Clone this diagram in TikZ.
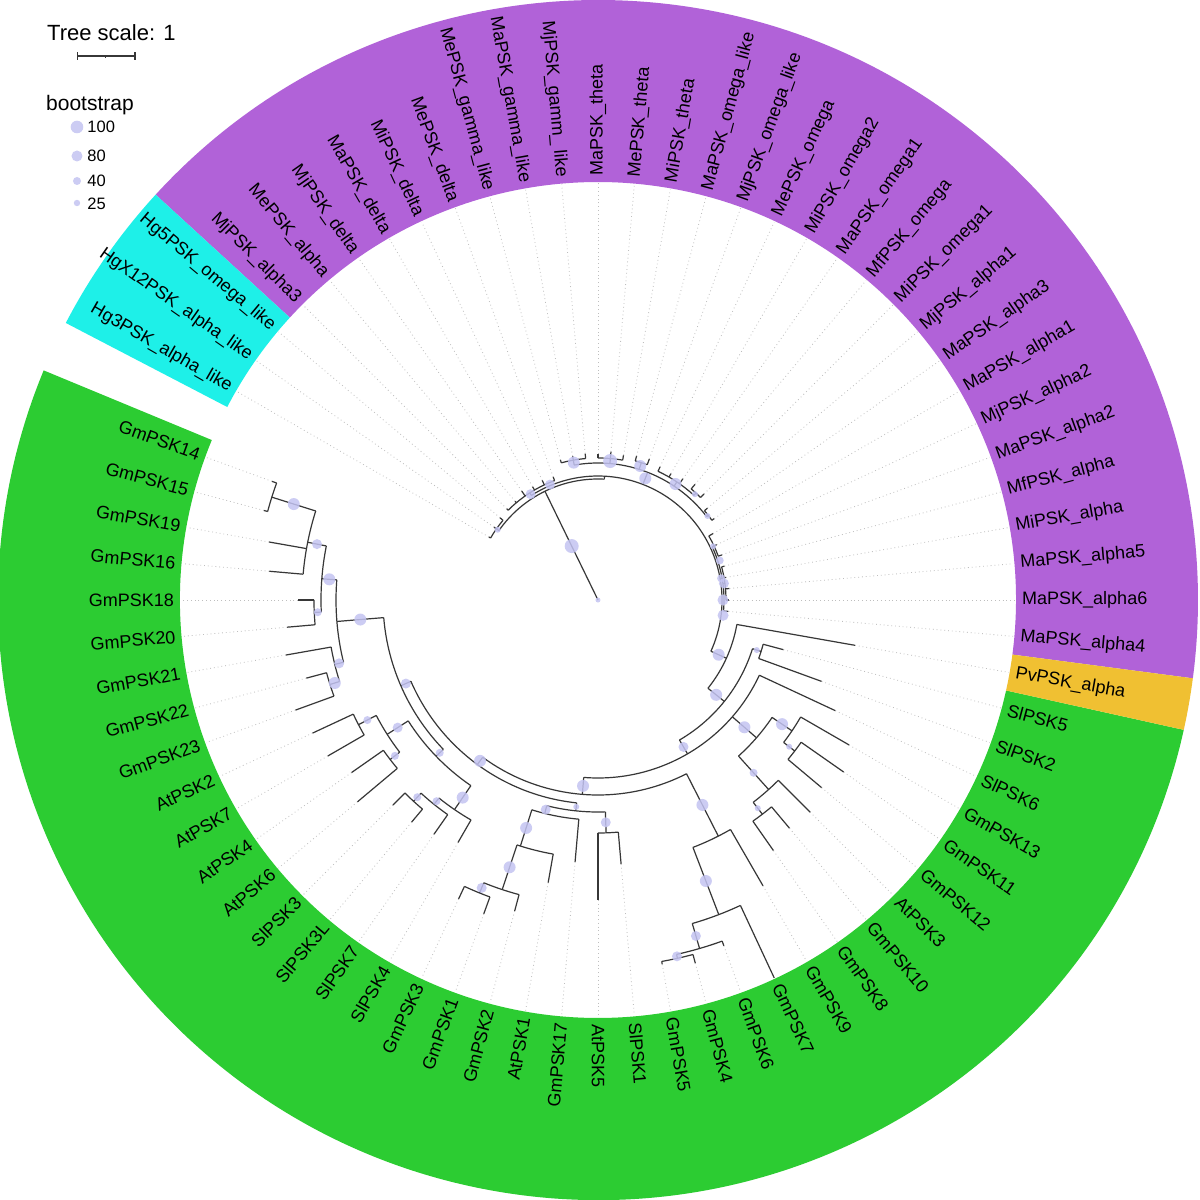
\documentclass[tikz,border=0pt]{standalone}
\usepackage{fontspec}
\setmainfont{Liberation Sans}
\usepackage{tikz}
\pgfdeclarelayer{fg}
\pgfsetlayers{main,fg}
\definecolor{purp}{RGB}{177,98,216}
\definecolor{cyn}{RGB}{30,240,232}
\definecolor{grn}{RGB}{44,204,50}
\definecolor{org}{RGB}{240,192,50}
\definecolor{bsc}{RGB}{196,196,242}
\definecolor{brc}{RGB}{55,55,55}
\definecolor{dlc}{RGB}{190,190,190}
\tikzset{
  br/.style={draw=brc, line width=1.2pt, line join=round},
  dl/.style={draw=dlc, line width=0.8pt, dash pattern=on 0.8pt off 3pt},
  lab/.style={inner sep=0pt, font=\fontsize{18}{20}\selectfont, text=black},
  bsfill/.style={fill=bsc, fill opacity=0.85},
  sbar/.style={draw=brc, line width=1.4pt}
}
% internal node: theta, r parent, r node, arc from, arc to, bootstrap size
\newcommand\nd[6]{%
  \draw[br] (#1:#2pt) -- (#1:#3pt);
  \draw[br] (#4:#3pt) arc[start angle=#4, end angle=#5, radius=#3pt];
  \ifdim #6pt>0pt
    \pgfmathsetmacro\rmid{(#2+#3)/2}%
    \begin{pgfonlayer}{fg}\fill[bsfill] (#1:\rmid pt) circle[radius=#6pt];\end{pgfonlayer}%
  \fi}
% leaf: theta, r parent, r tip, name, text
\newcommand\lf[5]{%
  \draw[br] (#1:#2pt) -- (#1:#3pt);
  \draw[dl] (#1:#3pt) -- (#1:417pt);
  \ifdim #1pt>90pt
    \pgfmathsetmacro\rot{#1-180}%
    \node[lab, anchor=east, rotate=\rot] (#4) at (#1:424pt) {#5};
  \else
    \node[lab, anchor=west, rotate=#1] (#4) at (#1:424pt) {#5};
  \fi}
\newcommand\ring[3]{%
  \fill[#3] (#1:418pt) arc[start angle=#1, end angle=#2, radius=418pt]
    -- (#2:600pt) arc[start angle=#2, end angle=#1, radius=600pt] -- cycle;}
\begin{document}
\begin{tikzpicture}[x=1pt,y=1pt]
\useasboundingbox (-598,-600) rectangle (602,600);
\fill[white] (-598,-600) rectangle (602,600);
% colour ranges
\ring{-7.5}{137.5}{purp}
\ring{137.5}{152.5}{cyn}
\ring{157.5}{347.5}{grn}
\ring{347.5}{352.5}{org}

% ---------- tree: root and purple / cyan part ----------
\coordinate (root) at (0,0);
\coordinate (nA) at (116:121pt);
\draw[br] (root) -- (nA);
\begin{pgfonlayer}{fg}
\fill[bsfill] (root) circle[radius=2.5pt];
\fill[bsfill] (116:60pt) circle[radius=7pt];
\end{pgfonlayer}
\draw[br] (87:121pt) arc[start angle=87, end angle=145, radius=121pt];
\nd{145}{121}{124}{140}{150}{3}
\nd{87}{121}{124}{-24.4}{122.5}{0}
\nd{122.5}{124}{127}{110}{135}{5}
\nd{68.75}{124}{137}{37.5}{100}{6}
\nd{100}{137}{142}{95}{105}{6}
\nd{85}{137}{142}{80}{90}{7}
\nd{72.5}{137}{144}{70}{75}{6}
\nd{56.25}{137}{142}{47.5}{65}{6}
\nd{47.5}{142}{145}{45}{50}{3}
\nd{37.5}{137}{139}{35}{40}{3}
\nd{10}{124}{126}{-5}{25}{4}
\nd{25}{126}{128}{20}{30}{3}
\nd{7.5}{126}{128}{0}{15}{5}
\begin{pgfonlayer}{fg}
\fill[bsfill] (0:125pt) circle[radius=5.5pt];
\fill[bsfill] (-7:126pt) circle[radius=5.5pt];
\fill[bsfill] (18:128pt) circle[radius=4pt];
\fill[bsfill] (112.6:125pt) circle[radius=5pt];
\end{pgfonlayer}

\lf{140}{124}{128}{HgvPSKomegalike}{Hg5PSK\_omega\_like}
\lf{145}{124}{127}{HgXxiiPSKalphalike}{HgX12PSK\_alpha\_like}
\lf{150}{124}{126}{HgiiiPSKalphalike}{Hg3PSK\_alpha\_like}

\lf{110}{127}{131}{MePSKdelta}{MePSK\_delta}
\lf{115}{127}{132}{MiPSKdelta}{MiPSK\_delta}
\lf{120}{127}{131}{MaPSKdelta}{MaPSK\_delta}
\lf{125}{127}{133}{MjPSKdelta}{MjPSK\_delta}
\lf{130}{127}{129}{MePSKalpha}{MePSK\_alpha}
\lf{135}{127}{129}{MjPSKalphaiii}{MjPSK\_alpha3}
\lf{95}{142}{147}{MjPSKgammlike}{MjPSK\_gamm\_ like}
\lf{100}{142}{146}{MaPSKgammalike}{MaPSK\_gamma\_like}
\lf{105}{142}{145}{MePSKgammalike}{MePSK\_gamma\_like}
\lf{80}{142}{147}{MiPSKtheta}{MiPSK\_theta}
\lf{85}{142}{149}{MePSKtheta}{MePSK\_theta}
\lf{90}{142}{146}{MaPSKtheta}{MaPSK\_theta}
\lf{70}{144}{150}{MjPSKomegalike}{MjPSK\_omega\_like}
\lf{75}{144}{149}{MaPSKomegalike}{MaPSK\_omega\_like}
\lf{55}{142}{148}{MaPSKomegai}{MaPSK\_omega1}
\lf{60}{142}{146}{MiPSKomegaii}{MiPSK\_omega2}
\lf{65}{142}{147}{MePSKomega}{MePSK\_omega}
\lf{45}{145}{150}{MiPSKomegai}{MiPSK\_omega1}
\lf{50}{145}{151}{MfPSKomega}{MfPSK\_omega}
\lf{35}{139}{142}{MaPSKalphaiii}{MaPSK\_alpha3}
\lf{40}{139}{143}{MjPSKalphai}{MjPSK\_alpha1}
\lf{20}{128}{132}{MaPSKalphaii}{MaPSK\_alpha2}
\lf{25}{128}{131}{MjPSKalphaii}{MjPSK\_alpha2}
\lf{30}{128}{133}{MaPSKalphai}{MaPSK\_alpha1}
\lf{0}{128}{131}{MaPSKalphavi}{MaPSK\_alpha6}
\lf{5}{128}{132}{MaPSKalphav}{MaPSK\_alpha5}
\lf{10}{128}{130}{MiPSKalpha}{MiPSK\_alpha}
\lf{15}{128}{131}{MfPSKalpha}{MfPSK\_alpha}
\lf{-5}{126}{131}{MaPSKalphaiv}{MaPSK\_alpha4}

% ---------- green / Pv part ----------
\nd{-24.4}{124}{141}{-38.75}{-10}{6}
\nd{-38.75}{141}{162}{-59.8}{-17.5}{6}
\nd{-17.5}{162}{171}{-20}{-15}{3}
\nd{-59.8}{162}{178}{-94.6}{-25}{5}
\nd{-41}{178}{210}{-48}{-34}{6}
\nd{-34}{210}{234}{-37.5}{-30}{6}
\nd{-37.5}{234}{248}{-40}{-35}{3}
\nd{-48}{210}{255}{-52.5}{-45}{4}
\nd{-52.5}{255}{270}{-55}{-50}{3}
\nd{-94.6}{178}{195}{-126.25}{-63}{6}
\nd{-63}{195}{265}{-69}{-60}{6}
\nd{-69}{265}{337}{-73.75}{-65}{6}
\nd{-73.75}{337}{363}{-77.5}{-70}{5}
\nd{-77.5}{363}{367}{-80}{-75}{5}
\nd{233.75}{195}{204}{203.5}{264}{6}
\nd{264}{204}{212}{256}{272}{3}
\nd{272}{212}{233}{270}{275}{5}
\nd{256}{212}{220}{252.5}{265}{5}
\nd{252.5}{220}{258}{251.7}{260}{6}
\nd{251.7}{258}{305}{248}{255}{6}
\nd{248}{305}{316}{245}{250}{5}
\nd{203.5}{204}{215}{184.7}{224}{5}
\nd{224}{215}{225}{212.5}{235.6}{4}
\nd{212.5}{225}{250}{207.5}{217.5}{5}
\nd{217.5}{250}{262}{215}{220}{4}
\nd{207.5}{250}{270}{205}{210}{4}
\nd{235.6}{225}{254}{231.25}{240}{6}
\nd{231.25}{254}{262}{227.5}{235}{4}
\nd{227.5}{262}{273}{225}{230}{4}
\nd{184.7}{215}{262}{175.6}{193.75}{6}
\nd{175.6}{262}{277}{168.75}{182.5}{6}
\nd{168.75}{277}{296}{162.5}{175}{5}
\nd{162.5}{296}{342}{160}{165}{6}
\nd{182.5}{277}{284}{180}{185}{4}
\nd{193.75}{262}{271}{190}{197.5}{5}
\nd{197.5}{271}{281}{195}{200}{6}

\lf{-10}{141}{261}{PvPSKalpha}{PvPSK\_alpha}
\lf{-15}{171}{192}{SlPSKv}{SlPSK5}
\lf{-20}{171}{238}{SlPSKii}{SlPSK2}
\lf{-25}{178}{262}{SlPSKvi}{SlPSK6}
\lf{-30}{234}{290}{GmPSKxiii}{GmPSK13}
\lf{-35}{248}{300}{GmPSKxi}{GmPSK11}
\lf{-40}{248}{292}{GmPSKxii}{GmPSK12}
\lf{-45}{255}{300}{AtPSKiii}{AtPSK3}
\lf{-50}{270}{298}{GmPSKx}{GmPSK10}
\lf{-55}{270}{306}{GmPSKviii}{GmPSK8}
\lf{-60}{265}{330}{GmPSKix}{GmPSK9}
\lf{-65}{337}{417}{GmPSKvii}{GmPSK7}
\lf{-70}{363}{368}{GmPSKvi}{GmPSK6}
\lf{-75}{367}{376}{GmPSKiv}{GmPSK4}
\lf{-80}{367}{370}{GmPSKv}{GmPSK5}
\lf{-85}{233}{265}{SlPSKi}{SlPSK1}
\lf{-90}{233}{300}{AtPSKv}{AtPSK5}
\lf{265}{220}{263}{GmPSKxvii}{GmPSK17}
\lf{260}{258}{287}{AtPSKi}{AtPSK1}
\lf{255}{305}{322}{GmPSKii}{GmPSK2}
\lf{250}{316}{334}{GmPSKi}{GmPSK1}
\lf{245}{316}{330}{GmPSKiii}{GmPSK3}
\lf{240}{254}{280}{SlPSKiv}{SlPSK4}
\lf{235}{262}{286}{SlPSKvii}{SlPSK7}
\lf{230}{273}{290}{SlPSKiiiL}{SlPSK3L}
\lf{225}{273}{290}{SlPSKiii}{SlPSK3}
\lf{220}{262}{314}{AtPSKvi}{AtPSK6}
\lf{215}{262}{301}{AtPSKiv}{AtPSK4}
\lf{210}{270}{312}{AtPSKvii}{AtPSK7}
\lf{205}{270}{315}{AtPSKii}{AtPSK2}
\lf{200}{281}{322}{GmPSKxxiii}{GmPSK23}
\lf{195}{281}{302}{GmPSKxxii}{GmPSK22}
\lf{190}{271}{317}{GmPSKxxi}{GmPSK21}
\lf{185}{284}{312}{GmPSKxx}{GmPSK20}
\lf{180}{284}{300}{GmPSKxviii}{GmPSK18}
\lf{175}{296}{330}{GmPSKxvi}{GmPSK16}
\lf{170}{296}{334}{GmPSKxix}{GmPSK19}
\lf{165}{342}{346}{GmPSKxv}{GmPSK15}
\lf{160}{342}{347}{GmPSKxiv}{GmPSK14}

% ---------- legend ----------
\node[anchor=base west, inner sep=0pt, font=\fontsize{22}{24}\selectfont] (treescale) at (-551,559) {Tree scale: 1};
\coordinate (sbL) at (-520.3,544);
\coordinate (sbR) at (-463,544);
\coordinate (sbM) at (-492,544);
\draw[sbar] (sbL) -- (sbR);
\draw[sbar] ([yshift=-3.7pt]sbL) -- ([yshift=3.7pt]sbL);
\draw[sbar] ([yshift=-3.7pt]sbR) -- ([yshift=3.7pt]sbR);
\draw[draw=brc, line width=1pt] (sbM) -- ([yshift=-2.5pt]sbM);
\node[anchor=base west, inner sep=0pt, font=\fontsize{21}{24}\selectfont] (bootlab) at (-552,489) {bootstrap};
\fill[bsfill] (-521,473) circle[radius=6.3pt];
\fill[bsfill] (-521,444) circle[radius=5.5pt];
\fill[bsfill] (-521,419) circle[radius=4pt];
\fill[bsfill] (-521,397) circle[radius=3.2pt];
\node[anchor=base west, inner sep=0pt, font=\fontsize{16.5}{18}\selectfont] (bhundred) at (-510.7,467.3) {100};
\node[anchor=base west, inner sep=0pt, font=\fontsize{16.5}{18}\selectfont] (beighty) at (-510.7,438.3) {80};
\node[anchor=base west, inner sep=0pt, font=\fontsize{16.5}{18}\selectfont] (bforty) at (-510.7,413.3) {40};
\node[anchor=base west, inner sep=0pt, font=\fontsize{16.5}{18}\selectfont] (btwentyfive) at (-510.7,390.7) {25};
\end{tikzpicture}
\end{document}
